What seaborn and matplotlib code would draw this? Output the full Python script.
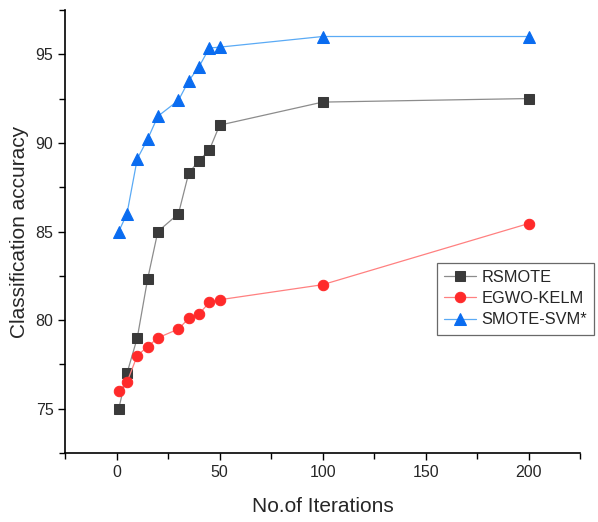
import pandas as pd
import matplotlib
matplotlib.use("Agg")
import matplotlib.pyplot as plt
from matplotlib.ticker import MultipleLocator
import seaborn as sns

# data
iterations = [1, 5, 10, 15, 20, 30, 35, 40, 45, 50, 100, 200]
rsmote = [75.0, 77.0, 79.0, 82.3, 85.0, 86.0, 88.3, 89.0, 89.6, 91.0, 92.3, 92.5]
egwo_kelm = [76.0, 76.5, 78.0, 78.5, 79.0, 79.5, 80.1, 80.35, 81.0, 81.15, 82.0, 85.45]
smote_svm = [85.0, 86.0, 89.1, 90.2, 91.5, 92.4, 93.5, 94.3, 95.35, 95.4, 96.0, 96.0]

series = ["RSMOTE", "EGWO-KELM", "SMOTE-SVM*"]

df = pd.DataFrame({
    "iter": iterations * 3,
    "acc": rsmote + egwo_kelm + smote_svm,
    "method": [s for s in series for _ in iterations],
})

sns.set_style("ticks")
plt.rcParams["font.family"] = ["Liberation Sans", "DejaVu Sans"]

fig = plt.figure(figsize=(5.98, 5.22), dpi=100)
ax = fig.add_axes([0.109, 0.132, 0.861, 0.849])

# line colour, marker colour, marker, marker size
styles = {
    "RSMOTE": ("#8c8c8c", "#3a3a3a", "s", 6.5),
    "EGWO-KELM": ("#ff8080", "#ff2a2a", "o", 7.5),
    "SMOTE-SVM*": ("#5aaaf5", "#0a6cf0", "^", 8),
}

for name in series:
    lc, mc, mk, ms = styles[name]
    sns.lineplot(data=df[df["method"] == name], x="iter", y="acc", ax=ax,
                 color=lc, linewidth=0.9, marker=mk, markersize=ms,
                 markerfacecolor=mc, markeredgecolor=mc, label=name)

ax.set_xlim(-25, 225)
ax.set_ylim(72.5, 97.5)
ax.xaxis.set_major_locator(MultipleLocator(50))
ax.xaxis.set_minor_locator(MultipleLocator(25))
ax.yaxis.set_major_locator(MultipleLocator(5))
ax.yaxis.set_minor_locator(MultipleLocator(2.5))
ax.tick_params(which="major", length=5, width=1, labelsize=11.5, color="black")
ax.tick_params(which="minor", length=4, width=1, color="black")
for s in ["left", "bottom"]:
    ax.spines[s].set_linewidth(1.2)
    ax.spines[s].set_color("black")
sns.despine(ax=ax)

ax.set_xlabel("No.of Iterations", fontsize=15, labelpad=12)
ax.set_ylabel("Classification accuracy", fontsize=15, labelpad=5)

leg = ax.legend(loc="upper left", bbox_to_anchor=(0.722, 0.43), fontsize=11.8,
                frameon=True, fancybox=False, edgecolor="#444444",
                handlelength=1.95, handletextpad=0.3, borderpad=0.45,
                labelspacing=0.38, borderaxespad=0)
leg.get_frame().set_linewidth(0.9)

fig.savefig("out.png", dpi=100)
